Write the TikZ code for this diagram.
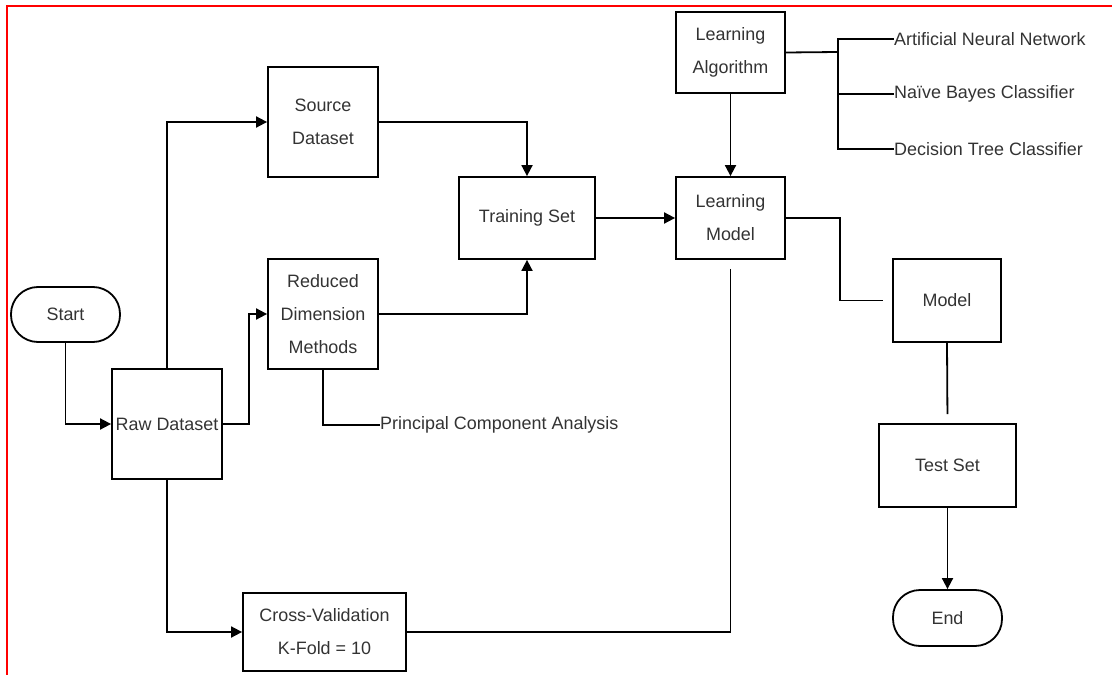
\documentclass[tikz,border=0pt]{standalone}
\usepackage{fontspec}
\setmainfont{Liberation Sans}
\usetikzlibrary{arrows.meta}
\definecolor{txt}{HTML}{333333}
\begin{document}
\begin{tikzpicture}[x=1bp,y=-1bp,
  every node/.style={text=txt,font=\fontsize{18}{33}\selectfont},
  box/.style={draw=black,line width=1.8bp,rectangle,align=center,inner sep=0pt},
  term/.style={box,rounded corners=27bp},
  lbl/.style={anchor=west,inner sep=0pt},
  link/.style={draw=black,line width=1.8bp},
  arr/.style={link,-{Triangle[length=11bp,width=11bp]}}]
\useasboundingbox (0,0) rectangle (1112,675);
% frame along the top and left edges
\draw[red,line width=2.5bp] (7,675) -- (7,6) -- (1112,6);

% process boxes
\node[term,minimum width=109bp,minimum height=55bp] (start) at (65.5,314.5) {Start};
\node[box,minimum width=110bp,minimum height=110bp] (raw) at (167,424) {Raw Dataset};
\node[box,minimum width=110bp,minimum height=110bp] (src) at (323,122) {Source\\Dataset};
\node[box,minimum width=110bp,minimum height=110bp] (red) at (323,314) {Reduced\\Dimension\\Methods};
\node[box,minimum width=136bp,minimum height=82bp] (train) at (527,218) {Training Set};
\node[box,minimum width=109bp,minimum height=82bp] (lm) at (730.5,218) {Learning\\Model};
\node[box,minimum width=109bp,minimum height=81bp] (la) at (730.5,52.5) {Learning\\Algorithm};
\node[box,minimum width=108bp,minimum height=83bp] (model) at (947,300.5) {Model};
\node[box,minimum width=137bp,minimum height=83bp] (test) at (947.5,465.5) {Test Set};
\node[term,minimum width=109bp,minimum height=56bp] (endn) at (947.5,618) {End};
\node[box,minimum width=163bp,minimum height=78bp] (cv) at (324.5,632) {Cross-Validation\\K-Fold = 10};

% annotations
\node[lbl] (pca) at (380,425) {Principal Component Analysis};
\node[lbl] (ann) at (894,39) {Artificial Neural Network};
\node[lbl] (nbc) at (894,94) {Naïve Bayes Classifier};
\node[lbl] (dtc) at (894,149) {Decision Tree Classifier};
\coordinate (bus) at (838,52);

% connectors
\draw[arr] (start.south) |- (raw.west);
\draw[arr] (raw.north) |- (src.west);
\draw[arr] (raw.east) -- ++(26,0) |- (red.west);
\draw[arr] (raw.south) |- (cv.west);
\draw[arr] (src.east) -| (train.north);
\draw[arr] (red.east) -| (train.south);
\draw[link] (red.south) |- (pca.west);
\draw[arr] (train.east) -- (lm.west);
\draw[arr] (la.south) -- (lm.north);
\draw[link] (la.east) -- (bus);
\draw[link] (ann.west) -| (bus);
\draw[link] (nbc.west) -| (bus);
\draw[link] (dtc.west) -| (bus);
\draw[link,shorten >=9bp] (lm.east) -- ++(54,0) |- (model.west);
\draw[link,shorten <=9bp] (lm.south) |- (cv.east);
\draw[link,shorten >=9bp] (model.south) -- (test.north);
\draw[arr] (test.south) -- (endn.north);
\end{tikzpicture}
\end{document}
